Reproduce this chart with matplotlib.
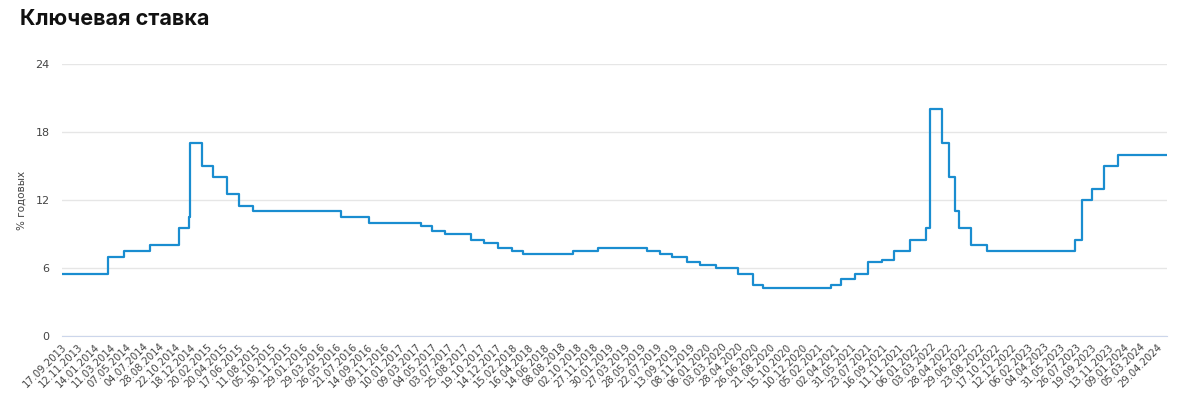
import numpy as np
import matplotlib
matplotlib.use('Agg')
import matplotlib.pyplot as plt

## Data ==============================================
# dates where the key rate changed, and the new rate (% per year)
change_dates = ['2013-09-17', '2014-03-03', '2014-04-28', '2014-07-28', '2014-11-05',
                '2014-12-12', '2014-12-16', '2015-02-02', '2015-03-16', '2015-05-05',
                '2015-06-16', '2015-08-03', '2016-06-14', '2016-09-19', '2017-03-27',
                '2017-05-02', '2017-06-19', '2017-09-18', '2017-10-30', '2017-12-18',
                '2018-02-12', '2018-03-26', '2018-09-17', '2018-12-17', '2019-06-17',
                '2019-07-29', '2019-09-09', '2019-10-28', '2019-12-16', '2020-02-10',
                '2020-04-27', '2020-06-22', '2020-07-27', '2021-03-22', '2021-04-26',
                '2021-06-15', '2021-07-26', '2021-09-13', '2021-10-25', '2021-12-20',
                '2022-02-14', '2022-02-28', '2022-04-11', '2022-05-04', '2022-05-27',
                '2022-06-14', '2022-07-25', '2022-09-19', '2023-07-24', '2023-08-15',
                '2023-09-18', '2023-10-30', '2023-12-18']
rates = [5.5, 7.0, 7.5, 8.0, 9.5,
         10.5, 17.0, 15.0, 14.0, 12.5,
         11.5, 11.0, 10.5, 10.0, 9.75,
         9.25, 9.0, 8.5, 8.25, 7.75,
         7.5, 7.25, 7.5, 7.75, 7.5,
         7.25, 7.0, 6.5, 6.25, 6.0,
         5.5, 4.5, 4.25, 4.5, 5.0,
         5.5, 6.5, 6.75, 7.5, 8.5,
         9.5, 20.0, 17.0, 14.0, 11.0,
         9.5, 8.0, 7.5, 8.5, 12.0,
         13.0, 15.0, 16.0]
end_date = '2024-06-04'

# category labels shown on the x axis (every 40th working day)
tick_labels = ['17.09.2013', '12.11.2013', '14.01.2014', '11.03.2014', '07.05.2014',
               '04.07.2014', '28.08.2014', '22.10.2014', '18.12.2014', '20.02.2015',
               '20.04.2015', '17.06.2015', '11.08.2015', '05.10.2015', '30.11.2015',
               '29.01.2016', '29.03.2016', '26.05.2016', '21.07.2016', '14.09.2016',
               '09.11.2016', '10.01.2017', '09.03.2017', '04.05.2017', '03.07.2017',
               '25.08.2017', '19.10.2017', '14.12.2017', '15.02.2018', '16.04.2018',
               '14.06.2018', '08.08.2018', '02.10.2018', '27.11.2018', '30.01.2019',
               '27.03.2019', '28.05.2019', '22.07.2019', '13.09.2019', '08.11.2019',
               '06.01.2020', '03.03.2020', '28.04.2020', '26.06.2020', '21.08.2020',
               '15.10.2020', '10.12.2020', '05.02.2021', '02.04.2021', '31.05.2021',
               '23.07.2021', '16.09.2021', '11.11.2021', '06.01.2022', '03.03.2022',
               '28.04.2022', '29.06.2022', '23.08.2022', '17.10.2022', '12.12.2022',
               '06.02.2023', '04.04.2023', '31.05.2023', '26.07.2023', '19.09.2023',
               '13.11.2023', '09.01.2024', '05.03.2024', '29.04.2024']


## Category positions ================================
def to_day(s):
    return np.datetime64(s, 'D').astype(int)

tick_days = np.array([to_day('-'.join(t.split('.')[::-1])) for t in tick_labels])
tick_idx = np.arange(len(tick_labels))

def pos(s):
    d = to_day(s)
    if d <= tick_days[-1]:
        return np.interp(d, tick_days, tick_idx)
    slope = (tick_idx[-1] - tick_idx[-2]) / (tick_days[-1] - tick_days[-2])
    return tick_idx[-1] + (d - tick_days[-1]) * slope

x = [pos(d) for d in change_dates] + [pos(end_date)]
y = rates + [rates[-1]]


## Plot ==============================================
fig = plt.figure(figsize=(12, 4.01), dpi=100)
ax = fig.add_axes([0.0517, 0.162, 0.9208, 0.678])

ax.step(x, y, where='post', color='#1a8dd0', lw=1.6, zorder=3)

ax.set_xlim(0, x[-1])
ax.set_ylim(0, 24)
ax.set_yticks([0, 6, 12, 18, 24])
ax.grid(axis='y', color='#e6e6e6', lw=1)
ax.set_axisbelow(True)
for s in ['top', 'right', 'left']:
    ax.spines[s].set_visible(False)
ax.spines['bottom'].set_color('#ccd6eb')
ax.tick_params(axis='y', length=0, labelsize=8, colors='#444444', pad=9)

ax.set_xticks(tick_idx)
ax.set_xticklabels(tick_labels, rotation=45, ha='right', rotation_mode='anchor',
                   fontsize=7.2, color='#444444')
ax.tick_params(axis='x', length=0, pad=4)

ax.set_ylabel('% годовых', fontsize=7.5, color='#444444', labelpad=6)

fig.text(20 / 1200, 1 - 19 / 401, 'Ключевая ставка', fontsize=15.5,
         fontweight='bold', family=['Inter', 'DejaVu Sans'], color='#111111',
         va='center', ha='left')

fig.savefig('out.png', dpi=100)
